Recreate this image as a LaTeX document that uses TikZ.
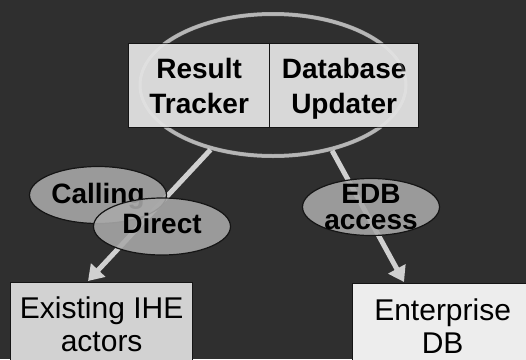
\documentclass[tikz,border=0pt]{standalone}
\usepackage{fontspec}
\setmainfont{Liberation Sans}
\usetikzlibrary{shapes.geometric,arrows.meta}
\definecolor{bgcol}{HTML}{2F2F2F}
\definecolor{ringcol}{HTML}{A4A4A4}
\definecolor{topfill}{HTML}{D8D8D8}
\definecolor{leftfill}{HTML}{D2D2D2}
\definecolor{rightfill}{HTML}{EDEDED}
\definecolor{ellfill}{HTML}{A9A9A9}
\definecolor{arrowcol}{HTML}{D0D0D0}
\definecolor{edgecol}{HTML}{151515}
\tikzset{
  topbox/.style={draw=edgecol, line width=1.3pt, fill=topfill, align=center,
    font=\fontsize{28}{35}\selectfont\bfseries, minimum height=84pt,
    anchor=north west, inner sep=0pt, text depth=0pt},
  lowbox/.style={draw=edgecol, line width=1.3pt, align=center,
    font=\fontsize{30}{33}\selectfont, anchor=north west, inner sep=0pt},
  bubble/.style={ellipse, draw=edgecol, line width=1.2pt, fill=ellfill,
    fill opacity=0.88, text opacity=1, align=center, inner sep=0pt,
    font=\fontsize{28}{26}\selectfont\bfseries, minimum width=137pt,
    minimum height=57pt},
  flow/.style={draw=arrowcol, line width=5pt,
    -{Triangle[width=19pt,length=15pt]}}
}
\begin{document}
\begin{tikzpicture}[x=1pt,y=-1pt]
\fill[bgcol] (0,0) rectangle (526,359);
\useasboundingbox (0,0) rectangle (526,359);
% group ring
\node[ellipse, draw=ringcol, line width=4pt, minimum width=266pt,
      minimum height=142pt, inner sep=0pt] (group) at (273,85) {};
% top boxes
\node[topbox, minimum width=141pt] (tracker) at (128,43) {Result\\Tracker};
\node[topbox, minimum width=149pt] (updater) at (269,43) {Database\\Updater};
\draw[white, opacity=0.2, line width=3pt] (group.center)
      ellipse [x radius=133pt, y radius=71pt];
% bottom boxes
\node[lowbox, fill=leftfill, minimum width=182pt, minimum height=84pt]
      (ihe) at (10,282) {Existing IHE\\actors};
\node[lowbox, fill=rightfill, minimum width=180pt, minimum height=84pt]
      (edb) at (352,283) {Enterprise\\DB};
% arrows
\coordinate (iheTip) at (88,281);
\coordinate (edbTip) at (404,282);
\draw[flow] (group.226.5) -- (iheTip);
\draw[flow] (group.312) -- (edbTip);
% bubbles
\node[bubble, text height=16pt, text depth=0pt] (calling) at (98,195) {Calling};
\node[bubble, text height=13pt, text depth=0pt] (direct) at (162,226.5) {Direct};
\node[bubble, inner ysep=-3pt] (access) at (371,207) {EDB\\access};
\end{tikzpicture}
\end{document}
